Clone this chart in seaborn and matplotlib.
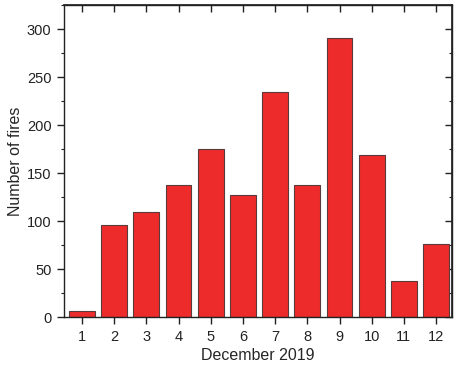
import matplotlib
matplotlib.use("Agg")
import matplotlib.pyplot as plt
import seaborn as sns
import pandas as pd
from matplotlib.ticker import MultipleLocator

days = [1, 2, 3, 4, 5, 6, 7, 8, 9, 10, 11, 12]
fires = [6, 96, 109, 138, 175, 127, 234, 138, 291, 169, 38, 76]

sns.set_theme(style="ticks")
plt.rcParams['font.family'] = ['Liberation Sans', 'DejaVu Sans']

df = pd.DataFrame({"day": days, "fires": fires})

fig = plt.figure(figsize=(4.6, 3.67), dpi=100)
ax = fig.add_axes([0.139, 0.136, 0.844, 0.850])
sns.barplot(data=df, x="day", y="fires", native_scale=True, width=0.8,
            color="#EE2B2B", saturation=1, edgecolor="#5a3a3a", linewidth=0.8, ax=ax)

ax.set_xlim(0.44, 12.5)
ax.set_ylim(0, 325)
ax.set_xticks(days)
ax.set_xticklabels([str(d) for d in days])
ax.yaxis.set_major_locator(MultipleLocator(50))
ax.yaxis.set_minor_locator(MultipleLocator(25))
ax.set_xlabel("December 2019", fontsize=11.5, labelpad=3.5)
ax.set_ylabel("Number of fires", fontsize=11.5, labelpad=2.5)
for s in ax.spines.values():
    s.set_visible(True)
    s.set_color("#222222")
    s.set_linewidth(1.0)
ax.tick_params(axis="both", which="major", direction="out", length=5, width=1,
               labelsize=10.5, colors="#222222", labelcolor="#222222", pad=4)
ax.tick_params(axis="y", which="minor", direction="out", length=2.5, width=0.8, colors="#222222")

axt = ax.secondary_xaxis("top")
axt.set_xticks(days)
axt.tick_params(direction="in", length=5, width=1, labeltop=False, colors="#222222")
axr = ax.secondary_yaxis("right")
axr.yaxis.set_major_locator(MultipleLocator(50))
axr.yaxis.set_minor_locator(MultipleLocator(25))
axr.tick_params(which="major", direction="in", length=5, width=1, labelright=False, colors="#222222")
axr.tick_params(which="minor", direction="in", length=2.5, width=0.8, colors="#222222")

fig.savefig("out.png", dpi=100)
